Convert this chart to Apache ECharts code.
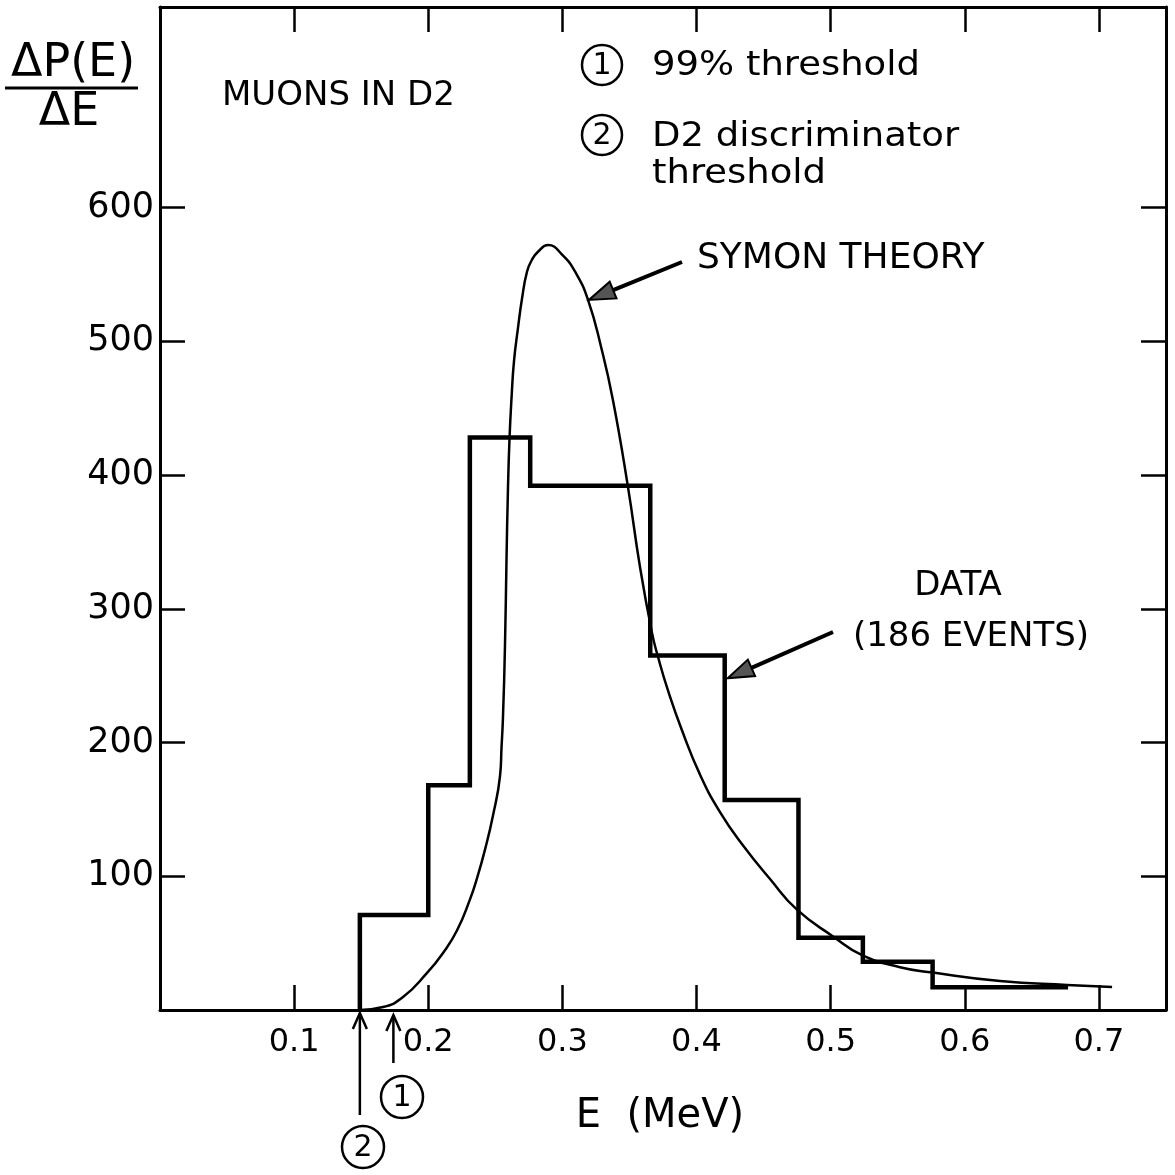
<!DOCTYPE html>
<html><head><meta charset="utf-8">
<script src="https://cdn.jsdelivr.net/npm/echarts@6/dist/echarts.min.js"></script>
<style>html,body{margin:0;padding:0;background:#fff}#c{width:1175px;height:1175px}</style>
</head><body><div id="c"></div>
<script>
// Histogram (data, 186 events): bin edges in MeV and heights
const binEdges = [0.149, 0.200, 0.231, 0.276, 0.3655, 0.421, 0.476, 0.524, 0.576, 0.677];
const binValues = [71, 168, 428, 392, 265, 157, 54, 36, 17];
// Symon theory curve
const theoryE = [0.1491, 0.1663, 0.1812, 0.1991, 0.2110, 0.2214, 0.2311, 0.2363, 0.2423, 0.2483, 0.2535, 0.2546, 0.2557, 0.2572, 0.2583, 0.2594, 0.2606, 0.2621, 0.2639, 0.2669, 0.2699, 0.2736, 0.2773, 0.2818, 0.2893, 0.3005, 0.3101, 0.3191, 0.3288, 0.3377, 0.3489, 0.3579, 0.3668, 0.3713, 0.3787, 0.3892, 0.4026, 0.4175, 0.4347, 0.4548, 0.4749, 0.5018, 0.5234, 0.5517, 0.5763, 0.6263, 0.6762, 0.7098];
const theoryP = [0, 2.2, 9.7, 27.7, 42.6, 59.4, 82.7, 98.4, 119.9, 145.6, 175, 196, 219, 273, 335, 389, 428, 458, 485, 510, 532, 552, 561, 567, 572, 564, 551, 531, 496, 456, 391, 331, 282, 264, 239, 209, 176, 148, 123, 98, 75, 55, 41, 32, 28, 21.7, 18.7, 17.2];
// Axis ticks
const xTicks = [0.1, 0.2, 0.3, 0.4, 0.5, 0.6, 0.7];
const yTicks = [100, 200, 300, 400, 500, 600];
// Thresholds: (1) 99% threshold, (2) D2 discriminator threshold
const thresholdE = [0.174, 0.149];
const thresholdLabels = ['1', '2'];
// Arrow targets
const theoryArrowPoint = [0.3191, 531];
const dataArrowPoint = [0.421, 248];

const histData = [[binEdges[0], 0]];
for (let i = 0; i < binValues.length; i++) {
  histData.push([binEdges[i], binValues[i]]);
  histData.push([binEdges[i + 1], binValues[i]]);
}
const theoryData = theoryE.map((e, i) => [e, theoryP[i]]);

const FONT = '"DejaVu Sans", sans-serif';
const chart = echarts.init(document.getElementById('c'), null, {renderer: 'canvas'});

const tickStyle = {show: true, inside: true, length: 25, lineStyle: {color: '#000', width: 2.5}};
const lineStyleAxis = {show: true, onZero: false, lineStyle: {color: '#000', width: 3}};

chart.setOption({
  backgroundColor: '#fff',
  animation: false,
  grid: {left: 160, right: 9, top: 7, bottom: 165, containLabel: false},
  xAxis: [{
    type: 'value', min: 0, max: 0.75, position: 'bottom',
    axisLine: lineStyleAxis,
    axisTick: Object.assign({customValues: xTicks}, tickStyle),
    axisLabel: {customValues: xTicks, formatter: v => v.toFixed(1), color: '#000', fontSize: 32, fontFamily: FONT, margin: 17},
    splitLine: {show: false}
  }, {
    type: 'value', min: 0, max: 0.75, position: 'top',
    axisLine: lineStyleAxis,
    axisTick: Object.assign({customValues: xTicks}, tickStyle),
    axisLabel: {show: false},
    splitLine: {show: false}
  }],
  yAxis: [{
    type: 'value', min: 0, max: 750, position: 'left',
    axisLine: lineStyleAxis,
    axisTick: Object.assign({customValues: yTicks}, tickStyle),
    axisLabel: {customValues: yTicks, color: '#000', fontSize: 35, fontFamily: FONT, margin: 6},
    splitLine: {show: false}
  }, {
    type: 'value', min: 0, max: 750, position: 'right',
    axisLine: lineStyleAxis,
    axisTick: Object.assign({customValues: yTicks}, tickStyle),
    axisLabel: {show: false},
    splitLine: {show: false}
  }],
  series: [{
    name: 'Data', type: 'line', data: histData, xAxisIndex: 0, yAxisIndex: 0,
    showSymbol: false, symbol: 'none',
    lineStyle: {color: '#000', width: 4.5, join: 'miter'}
  }, {
    name: 'Symon theory', type: 'line', data: theoryData, xAxisIndex: 0, yAxisIndex: 0,
    showSymbol: false, symbol: 'none', smooth: 0.5,
    lineStyle: {color: '#000', width: 2.5}
  }]
});

function px(p) { return chart.convertToPixel({xAxisIndex: 0, yAxisIndex: 0}, p); }
function txt(text, x, y, size, align, extra) {
  return Object.assign({type: 'text', x: x, y: y, style: {text: text, fill: '#000', font: size + 'px ' + FONT, textAlign: align || 'left', textVerticalAlign: 'middle'}}, extra || {});
}
function circ(cx, cy, r, label) {
  return [
    {type: 'circle', shape: {cx: cx, cy: cy, r: r}, style: {fill: 'none', stroke: '#000', lineWidth: 2.5}},
    txt(label, cx, cy + 1, 30, 'center')
  ];
}
function filledArrow(from, to, len, w) {
  const dx = to[0] - from[0], dy = to[1] - from[1];
  const L = Math.sqrt(dx * dx + dy * dy), ux = dx / L, uy = dy / L;
  const bx = to[0] - ux * len, by = to[1] - uy * len;
  return [
    {type: 'line', shape: {x1: from[0], y1: from[1], x2: bx, y2: by}, style: {stroke: '#000', lineWidth: 4}},
    {type: 'polygon', shape: {points: [to, [bx - uy * w, by + ux * w], [bx + uy * w, by - ux * w]]}, style: {fill: '#555', stroke: '#000', lineWidth: 2}}
  ];
}
function openArrowUp(x, yTip, yTail) {
  return [
    {type: 'line', shape: {x1: x, y1: yTail, x2: x, y2: yTip}, style: {stroke: '#000', lineWidth: 2.5}},
    {type: 'polyline', shape: {points: [[x - 7, yTip + 16], [x, yTip], [x + 7, yTip + 16]]}, style: {stroke: '#000', lineWidth: 2.5, fill: 'none'}}
  ];
}

const tip1 = px(theoryArrowPoint);
const tip2 = px(dataArrowPoint);
const th1 = px([thresholdE[0], 0]);
const th2 = px([thresholdE[1], 0]);
const wide = {scaleX: 1.12, originX: 0, originY: 0};

let g = [];
// y-axis title as a fraction
g.push(txt('ΔP(E)', 73, 64, 46, 'center'));
g.push({type: 'line', shape: {x1: 5, y1: 88, x2: 138, y2: 88}, style: {stroke: '#000', lineWidth: 3}});
g.push(txt('ΔE', 69, 113, 46, 'center'));
// x-axis title
g.push(txt('E  (MeV)', 660, 1117, 40, 'center'));
// panel label
g.push(txt('MUONS IN D2', 222, 96, 34, 'left'));
// key
g = g.concat(circ(602, 65, 20, thresholdLabels[0]));
g.push(txt('99% threshold', 652, 66, 33, 'left', wide));
g = g.concat(circ(602, 135, 20, thresholdLabels[1]));
g.push(txt('D2 discriminator', 652, 137, 33, 'left', wide));
g.push(txt('threshold', 652, 174, 33, 'left', wide));
// curve labels
g.push(txt('SYMON THEORY', 697, 259, 36, 'left'));
g = g.concat(filledArrow([682, 262], [tip1[0] + 1, tip1[1]], 26, 9));
g.push(txt('DATA', 958, 586, 34, 'center'));
g.push(txt('(186 EVENTS)', 971, 637, 34, 'center'));
g = g.concat(filledArrow([833, 632], [tip2[0] + 3, tip2[1]], 26, 9));
// threshold arrows
g = g.concat(openArrowUp(th2[0], th2[1] + 3, 1115));
g = g.concat(circ(363, 1147, 21, thresholdLabels[1]));
g = g.concat(openArrowUp(th1[0], th1[1] + 5, 1063));
g = g.concat(circ(402, 1097, 21, thresholdLabels[0]));

chart.setOption({graphic: {elements: g}});
</script>
</body></html>
